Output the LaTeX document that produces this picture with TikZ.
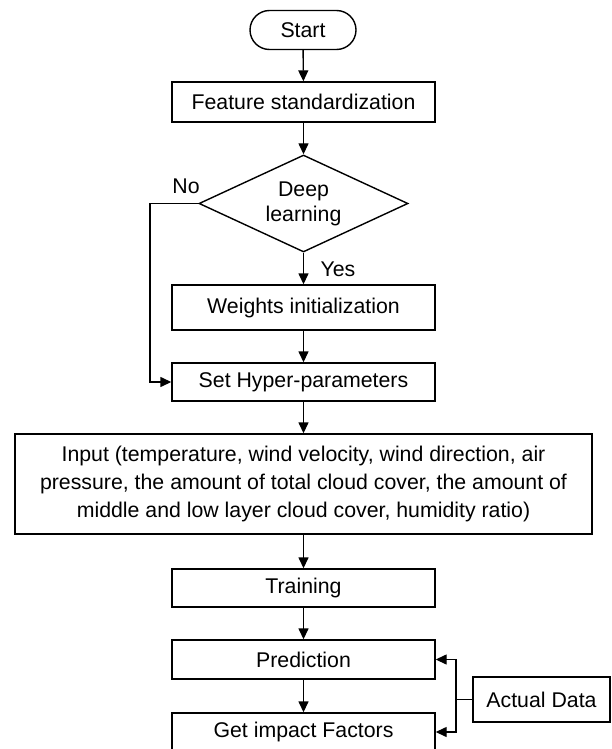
\documentclass[tikz,border=0pt]{standalone}
\usepackage{fontspec}
\setmainfont{Liberation Sans}
\usetikzlibrary{arrows.meta,shapes.geometric}
\begin{document}
\begin{tikzpicture}[x=1pt,y=-1pt,
  txt/.style={font=\fontsize{21.3}{28}\selectfont},
  box/.style={draw,line width=1.4pt,minimum width=263pt,inner sep=0pt,txt},
  arr/.style={-{Triangle[length=11pt,width=10pt]},line width=1.4pt},
  ln/.style={line width=1.4pt}]
\useasboundingbox (0,0) rectangle (612,749);
\node[box,minimum width=106pt,minimum height=39pt,rounded corners=19.5pt] (start) at (303,30) {Start};
\node[box,minimum height=40pt] (feat) at (303.5,102) {Feature standardization};
\node[draw,line width=1.4pt,diamond,aspect=2.15,inner sep=0pt,minimum width=209pt,minimum height=97pt,align=center,font=\fontsize{21.3}{25}\selectfont] (dl) at (303.5,203.5) {Deep\\learning};
\node[box,minimum height=45pt] (wi) at (303.5,307.5) {Weights initialization};
\node[box,minimum height=38pt] (hp) at (303.5,382) {Set Hyper-parameters};
\node[box,minimum width=577pt,minimum height=100pt,align=center] (in) at (303.5,484) {Input (temperature, wind velocity, wind direction, air\\pressure, the amount of total cloud cover, the amount of\\middle and low layer cloud cover, humidity ratio)};
\node[box,minimum height=38pt] (tr) at (303.5,588) {Training};
\node[box,minimum height=39pt] (pr) at (303.5,659.5) {Prediction};
\node[box,minimum height=38pt] (gi) at (303.5,732) {Get impact Factors};
\node[box,minimum width=137pt,minimum height=45pt] (ad) at (541.5,699.5) {Actual Data};
\node[txt] (no) at (186,186) {No};
\node[txt] (yes) at (338,269) {Yes};
\coordinate (nc) at (150,203.5);
\coordinate (jc) at (456,699.5);
\draw[arr] (start) -- (feat);
\draw[arr] (feat) -- (dl);
\draw[arr] (dl) -- (wi);
\draw[arr] (wi) -- (hp);
\draw[arr] (dl.west) -- (nc) |- (hp.west);
\draw[arr] (hp) -- (in);
\draw[arr] (in) -- (tr);
\draw[arr] (tr) -- (pr);
\draw[arr] (pr) -- (gi);
\draw[ln] (ad.west) -- (jc);
\draw[arr] (jc) |- (pr.east);
\draw[arr] (jc) |- (gi.east);
\end{tikzpicture}
\end{document}
